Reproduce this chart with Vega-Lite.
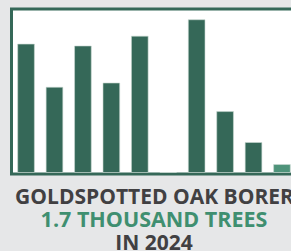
{
  "$schema": "https://vega.github.io/schema/vega-lite/v6.json",
  "width": 285,
  "height": 165,
  "autosize": "none",
  "padding": {"left": 11.5, "top": 9, "right": 0, "bottom": 77},
  "background": "#e6e7e8",
  "config": {
    "view": {"fill": "#ffffff", "stroke": "#356858", "strokeWidth": 3}
  },
  "title": {
    "text": "1.7 THOUSAND TREES",
    "subtitle": "IN 2024",
    "orient": "bottom",
    "anchor": "middle",
    "offset": 3,
    "font": "Open Sans",
    "fontSize": 21.5,
    "fontWeight": "bold",
    "color": "#3f8f70",
    "subtitleFont": "Open Sans",
    "subtitleFontSize": 21,
    "subtitleFontWeight": "bold",
    "subtitleColor": "#414042",
    "subtitlePadding": 1
  },
  "data": {
    "values": [
      {"year": "2015", "trees": 27.4},
      {"year": "2016", "trees": 18.2},
      {"year": "2017", "trees": 27.0},
      {"year": "2018", "trees": 19.1},
      {"year": "2019", "trees": 29.1},
      {"year": "2020", "trees": 0},
      {"year": "2021", "trees": 32.6},
      {"year": "2022", "trees": 13.0},
      {"year": "2023", "trees": 6.4},
      {"year": "2024", "trees": 1.7}
    ]
  },
  "mark": {"type": "bar", "stroke": "#c9d8d2", "strokeWidth": 0.6},
  "encoding": {
    "x": {
      "field": "year",
      "type": "ordinal",
      "scale": {"paddingInner": 0.413, "paddingOuter": 0.218},
      "axis": {
        "title": "GOLDSPOTTED OAK BORER",
        "titleFont": "Open Sans",
        "titleFontSize": 21,
        "titleFontWeight": "bold",
        "titleColor": "#414042",
        "titlePadding": 12,
        "labels": false,
        "ticks": false,
        "domain": false,
        "grid": false
      }
    },
    "y": {
      "field": "trees",
      "type": "quantitative",
      "scale": {"domain": [0, 35], "range": [163.5, -0.5], "nice": false},
      "axis": null
    },
    "color": {
      "condition": {"test": "datum.year === '2024'", "value": "#4e937a"},
      "value": "#356858"
    }
  }
}
